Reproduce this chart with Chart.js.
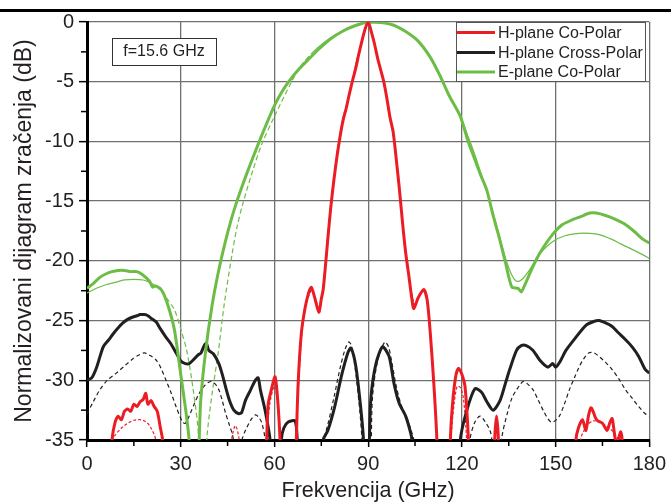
<!DOCTYPE html>
<html>
<head>
<meta charset="utf-8">
<script src="https://cdn.jsdelivr.net/npm/chart.js@4.4.1/dist/chart.umd.min.js"></script>
<style>
  html, body { margin: 0; padding: 0; background: #fff; }
  #wrap { width: 671px; height: 504px; }
</style>
</head>
<body>
<div id="wrap"><canvas id="patternChart" width="671" height="504"></canvas></div>
<script>
// Radiation pattern, f = 15.6 GHz
// thick = measured, thin = simulated; values under -35 dB fall off the axis

const xTicks = [0, 30, 60, 90, 120, 150, 180];
const legendLabels = ['H-plane Co-Polar', 'H-plane Cross-Polar', 'E-plane Co-Polar'];

// H-plane Co-Polar, measured
const hCoMeasAngle = [7, 8, 9, 10, 11, 12, 13, 14, 15, 16, 17, 18, 18.8, 19.5, 20.5, 21.5, 22.5, 23.5, 24.2, 25,
  56.5, 57.5, 58, 59, 60.2, 61, 61.8, 62.5,
  66.5, 67, 67.6, 68.6, 69.7, 70.8, 71.8, 72.8, 74.2, 75, 75.6, 76.3, 77, 78, 79, 80, 81, 82, 83, 84, 85, 86, 87, 88, 89, 90,
  91, 92, 93, 94, 95, 96, 97, 98, 99, 100, 101, 102, 103, 104, 104.6, 106, 107.8, 108.9, 109.9, 111, 112, 112.5,
  115.8, 116.3, 117, 118, 118.9, 120, 121, 122.1, 122.6,
  130, 130.5, 131.1, 131.7, 132.2,
  156, 156.5, 157.3, 158.6, 159.7, 160.5, 161.3, 162, 162.7, 163.5, 165, 166.5, 167.3, 168.1, 168.7, 169.2, 170, 170.8, 171.3, 171.8];
const hCoMeasDb = [-40, -35, -33.5, -33.0, -33.3, -32.6, -32.4, -32.6, -32.0, -32.2, -31.8, -31.6, -31.1, -32.0, -31.7, -32.2, -32.6, -34.0, -35, -40,
  -40, -35, -32, -30.8, -29.7, -31.5, -35, -40,
  -40, -35, -30.2, -26.1, -24.1, -22.8, -22.2, -23.0, -24.3, -23.2, -22.4, -20.5, -18.4, -15.6, -13.3, -11.3, -9.6, -8.2, -7.2, -6.0, -4.9, -3.9, -2.7, -1.6, -0.6, 0,
  -0.8, -1.8, -3.0, -4.0, -5.0, -6.4, -8.0, -9.2, -11.5, -14.0, -16.8, -19.3, -21.2, -23.2, -24.0, -23.1, -22.4, -23.3, -26.1, -30.2, -35, -40,
  -40, -35, -32, -29.7, -29.0, -29.5, -30.5, -35, -40,
  -40, -35, -33.0, -35, -40,
  -40, -35, -34.0, -33.3, -34.2, -33.0, -32.3, -32.6, -33.1, -33.4, -33.6, -34.2, -33.6, -33.2, -34.2, -35, -35, -34.3, -35, -40];

// H-plane Co-Polar, simulated
const hCoSimAngle = [6, 7, 9, 11, 13, 15, 17, 19, 20.5, 22, 23,
  45.5, 46.3, 47.5, 48.7, 49.3,
  57, 57.5, 58.5, 60, 61, 62, 62.5,
  66.3, 66.8, 67.8, 68.8, 70, 71.8, 73, 74.2, 75.5, 76.5, 78, 80, 82, 84, 86, 88, 90,
  92, 94, 96, 98, 100, 102, 103.5, 104.8, 106, 107.8, 109, 110, 111, 112, 112.5,
  116, 116.5, 117.5, 118.5, 119.5, 120.5, 121.5, 122,
  157.5, 158, 160, 162, 164, 166, 168, 170, 170.5];
const hCoSimDb = [-40, -35.5, -34.6, -34.0, -33.6, -33.35, -33.3, -33.5, -34.0, -35, -40,
  -40, -35, -33.8, -35, -40,
  -40, -35, -32, -30.5, -32, -35, -40,
  -40, -35, -30, -26, -23.8, -22.5, -23.0, -24.0, -22.3, -19.8, -15.3, -11.0, -8.0, -6.0, -3.6, -1.5, 0,
  -1.8, -4.0, -6.4, -9.4, -14.2, -19.3, -22.0, -23.6, -23.0, -22.5, -23.5, -26.2, -30.5, -35, -40,
  -40, -35, -32, -30.5, -30.6, -31.5, -35, -40,
  -40, -35, -33.8, -33.4, -33.5, -33.8, -34.2, -35, -40];

// H-plane Cross-Polar, measured
const hCrossMeasAngle = [0, 1.5, 3.1, 5.2, 7, 8.4, 10, 11.5, 13, 14.7, 16, 17, 18.4, 19.5, 20.5, 22.1, 23.5, 25.3, 27, 28.5,
  30.1, 31.5, 32.7, 34, 35.5, 36.5, 37.5, 38.2, 39, 40.5, 42.2, 43.3, 44.3, 45.5, 47, 48.6, 49.5, 50.7, 52, 53.9,
  54.8, 55.5, 57, 58.6, 59.5, 61.5, 62.2, 63, 64.4, 66.6, 67.3, 68,
  75, 75.6, 77.1, 79.3, 81.4, 83.5, 84.5, 86.1, 87.7, 88.5, 89,
  90, 90.4, 90.9, 92.5, 94.6, 96.7, 98.3, 99.9, 102, 103.6, 104, 104.5,
  119, 119.5, 121.6, 124.2, 126.3, 128, 130, 132.2, 134, 135.3, 137.5, 139, 140.6, 142.8, 144.9, 147.5, 149.1, 150,
  151.5, 153.3, 156.5, 159.7, 162, 163.9, 166, 168.1, 170, 172.4, 174.5, 176.6, 178.7, 180];
const hCrossMeasDb = [-30.0, -29.8, -28.9, -27.2, -26.6, -26.1, -25.6, -25.2, -24.9, -24.7, -24.6, -24.5, -24.5, -24.6, -24.8, -25.1, -25.7, -26.4, -27.0, -27.7,
  -28.4, -28.6, -28.6, -28.3, -27.9, -27.7, -27.1, -26.9, -27.5, -27.8, -28.6, -29.5, -30.5, -31.6, -32.5, -32.8, -32.7, -31.7, -31.0, -30.0,
  -29.8, -30.8, -32.5, -35, -40, -40, -35, -34.0, -33.5, -33.4, -35, -40,
  -40, -35, -34.2, -32.2, -29.7, -27.7, -27.3, -28.9, -32.5, -35, -40,
  -40, -35, -31.4, -28.6, -27.2, -28.0, -30.3, -31.9, -33.0, -34.4, -35, -40,
  -40, -35, -32.5, -30.7, -31.0, -31.8, -32.5, -31.7, -30.2, -29.1, -27.5, -27.1, -27.1, -27.5, -28.3, -28.9, -28.6, -28.9,
  -28.4, -27.5, -26.4, -25.4, -25.1, -25.0, -25.2, -25.5, -26.0, -26.6, -27.2, -28.0, -29.1, -29.4];

// H-plane Cross-Polar, simulated
const hCrossSimAngle = [0, 2, 4.1, 6.5, 9.4, 12, 14.7, 16.5, 18.4, 20, 22.1, 23.7, 25.3, 27, 28.5, 30.6, 31.5, 32.7, 34.3, 35.9,
  37.8, 39.6, 41, 42.2, 43.3, 44.3, 45.4, 46.4, 47.5, 48.5, 49.5, 50.7, 52.5, 53.9, 55, 56, 57, 57.5,
  75, 75.8, 77, 79, 81, 82.5, 83.7, 84.5, 85.7, 87.3, 88, 88.5,
  90.5, 91, 91.4, 93, 95.3, 96.5, 97.5, 99, 100.5, 102.5, 104, 104.6, 105,
  122, 122.6, 124, 125.8, 127.5, 129, 129.6, 130.2,
  132, 132.7, 134.8, 136, 137.5, 139.6, 141, 142.8, 144.5, 146, 147.5, 148.6, 149.8, 151.2, 152.8, 154.4, 156, 157.5, 159,
  160.7, 162.2, 163.9, 166, 168.1, 170.3, 172.4, 174.5, 176.6, 178.7, 180];
const hCrossSimDb = [-32.8, -31.8, -30.8, -30.0, -29.4, -28.8, -28.2, -27.9, -27.7, -27.9, -28.3, -29.0, -30.0, -31.1, -32.2, -33.5, -33.6, -33.0, -32.0, -31.1,
  -30.4, -30.1, -30.3, -30.8, -31.7, -32.7, -33.6, -34.4, -35.5, -35.5, -35, -34.2, -33.3, -32.9, -33.1, -33.6, -35, -40,
  -40, -35, -33.8, -31.5, -29.0, -27.5, -26.8, -27.0, -28.7, -32.5, -35, -40,
  -40, -35, -31.4, -28.4, -26.8, -27.2, -28.4, -30.5, -32.0, -33.2, -34.4, -35, -40,
  -40, -35, -33.6, -33.0, -33.5, -34.2, -35, -40,
  -40, -35, -32.5, -31.5, -30.8, -30.1, -30.3, -30.8, -31.7, -32.5, -33.2, -33.5, -33.4, -33.0, -32.0, -30.8, -29.8, -28.9, -28.2,
  -27.7, -27.7, -28.0, -28.5, -29.1, -29.9, -30.8, -31.5, -32.2, -32.8, -33.0];

// E-plane Co-Polar, measured
const eCoMeasAngle = [0, 2, 4, 6, 8, 10, 12, 14, 16, 18, 20, 21, 22, 24, 26, 28, 30, 31.6, 32.7, 34, 35,
  35.9, 36.4, 38, 40, 42, 44, 46, 48, 50, 52, 55, 57.5, 60, 62.5, 65, 68, 71, 74.5, 78, 82, 86, 90,
  94, 98, 102, 106, 110, 113, 116, 119.5, 122, 124, 126, 128, 130, 132, 134, 136, 138, 139, 140, 142, 144, 146,
  149, 152, 155, 158, 161, 163, 166, 169, 172, 175, 178, 180];
const eCoMeasDb = [-22.3, -21.9, -21.4, -21.1, -20.9, -20.8, -20.8, -20.9, -20.9, -21.2, -21.7, -22.2, -22.1, -22.5, -23.8, -25.8, -29.5, -32.5, -35, -40, -40,
  -35, -31.7, -27.5, -23.8, -21.0, -18.7, -16.7, -15.0, -13.5, -12.1, -10.1, -8.5, -7.0, -5.8, -4.85, -3.9, -3.1, -2.2, -1.4, -0.75, -0.3, 0,
  -0.05, -0.25, -0.8, -1.6, -3.0, -4.5, -6.2, -7.9, -10.0, -11.4, -12.8, -14.1, -16.2, -18.1, -20.2, -22.2, -22.3, -22.6, -22.1, -20.9, -19.8, -18.9,
  -17.8, -17.0, -16.6, -16.3, -16.0, -16.0, -16.2, -16.5, -16.9, -17.5, -18.2, -18.5];

// E-plane Co-Polar, simulated
const eCoSimAngle = [0, 3, 6, 9, 12, 15, 18, 20, 22, 24, 26, 28, 30, 32, 34, 35.5, 37,
  38.4, 40, 42, 44, 46.4, 48, 50, 53, 56, 60, 65.5, 68.7, 72, 76, 80, 85, 90,
  95, 100, 106, 110, 113, 116, 119.5, 122, 124, 126, 128, 130, 132, 134, 136, 137.5, 139, 141, 143, 145,
  149, 153, 157.5, 161, 164, 168, 171, 175, 178, 180];
const eCoSimDb = [-22.7, -22.3, -22.0, -21.8, -21.6, -21.55, -21.6, -21.8, -22.1, -22.6, -23.3, -24.1, -25.7, -27.6, -30.8, -34.0, -40,
  -34.7, -31.2, -27.7, -23.5, -19.5, -17.2, -15.1, -12.5, -10.2, -7.9, -5.0, -3.6, -2.6, -1.7, -1.0, -0.3, 0,
  -0.1, -0.5, -1.6, -3.0, -4.5, -6.2, -7.9, -9.6, -11.0, -12.6, -14.2, -16.0, -17.9, -19.8, -21.2, -21.7, -21.6, -21.0, -20.2, -19.4,
  -18.4, -17.9, -17.7, -17.7, -17.8, -18.2, -18.6, -19.1, -19.5, -19.8];

const RED = '#ec1c24';
const BLACK = '#231f20';
const GREEN = '#6cbd45';
const FONT = "'Liberation Sans', Arial, sans-serif";

function toPoints(xs, ys) {
  return xs.map((x, i) => ({ x: x, y: ys[i] }));
}

function measured(label, xs, ys, color, order) {
  return {
    label: label,
    data: toPoints(xs, ys),
    borderColor: color,
    borderWidth: 3,
    pointRadius: 0,
    tension: 0.25,
    clip: 0,
    order: order
  };
}

function simulated(label, xs, ys, color, dash, order) {
  return {
    label: label,
    data: toPoints(xs, ys),
    borderColor: color,
    borderWidth: 1.2,
    borderDash: dash,
    pointRadius: 0,
    tension: 0.3,
    clip: 0,
    order: order
  };
}

const eSim = simulated('E-plane Co-Polar sim', eCoSimAngle, eCoSimDb, GREEN, [], 6);
// simulated E-plane is dashed only on the rising flank
eSim.segment = {
  borderDash: ctx => (ctx.p0.parsed.x >= 21 && ctx.p1.parsed.x <= 72) ? [5, 3] : []
};

// minor ticks, top rule, annotation and legend box
const decorations = {
  id: 'decorations',
  beforeDraw(chart) {
    const c = chart.ctx;
    c.save();
    c.fillStyle = '#000';
    c.fillRect(0, 9, chart.width, 3);
    c.restore();
  },
  afterDraw(chart) {
    const c = chart.ctx;
    const xs = chart.scales.x, ys = chart.scales.y;
    const area = chart.chartArea;
    c.save();
    c.strokeStyle = '#000';
    c.lineWidth = 1.5;
    for (let v = 15; v < 180; v += 30) {
      const px = xs.getPixelForValue(v);
      c.beginPath(); c.moveTo(px, area.bottom); c.lineTo(px, area.bottom + 6); c.stroke();
    }
    for (let v = -2.5; v > -35; v -= 5) {
      const py = ys.getPixelForValue(v);
      c.beginPath(); c.moveTo(area.left, py); c.lineTo(area.left - 6, py); c.stroke();
    }

    // frequency note
    c.fillStyle = '#fff';
    c.fillRect(112, 38, 104, 27);
    c.strokeStyle = '#333';
    c.lineWidth = 1;
    c.strokeRect(112.5, 38.5, 104, 27);
    c.fillStyle = '#231f20';
    c.font = '16px ' + FONT;
    c.textAlign = 'center';
    c.textBaseline = 'middle';
    c.fillText('f=15.6 GHz', 164, 52);

    // legend
    c.fillStyle = '#fff';
    c.fillRect(456, 22, 189, 59);
    c.strokeStyle = '#555';
    c.strokeRect(456.5, 22.5, 189, 59);
    const colors = [RED, BLACK, GREEN];
    const rows = [32.5, 52.5, 72];
    c.font = '16px ' + FONT;
    c.textAlign = 'left';
    for (let i = 0; i < legendLabels.length; i++) {
      c.strokeStyle = colors[i];
      c.lineWidth = 3;
      c.beginPath(); c.moveTo(457, rows[i]); c.lineTo(495, rows[i]); c.stroke();
      c.fillStyle = '#231f20';
      c.fillText(legendLabels[i], 498, rows[i] + 1);
    }
    c.restore();
  }
};

new Chart(document.getElementById('patternChart'), {
  type: 'line',
  data: {
    datasets: [
      measured('H-plane Co-Polar', hCoMeasAngle, hCoMeasDb, RED, 1),
      simulated('H-plane Co-Polar sim', hCoSimAngle, hCoSimDb, RED, [3, 2], 4),
      measured('H-plane Cross-Polar', hCrossMeasAngle, hCrossMeasDb, BLACK, 3),
      simulated('H-plane Cross-Polar sim', hCrossSimAngle, hCrossSimDb, BLACK, [4, 3], 5),
      measured('E-plane Co-Polar', eCoMeasAngle, eCoMeasDb, GREEN, 2),
      eSim
    ]
  },
  options: {
    responsive: false,
    animation: false,
    devicePixelRatio: 1,
    layout: { padding: { top: 22, right: 17, bottom: 0, left: 0 } },
    plugins: {
      legend: { display: false },
      tooltip: { enabled: false }
    },
    scales: {
      x: {
        type: 'linear',
        min: 0,
        max: 180,
        afterBuildTicks: scale => { scale.ticks = xTicks.map(v => ({ value: v })); },
        afterFit: scale => { scale.height = 64; },
        grid: { color: '#707070', lineWidth: 1.3, tickLength: 7, tickColor: '#000', tickWidth: 1.5 },
        border: { color: '#000', width: 3 },
        ticks: { color: '#231f20', font: { family: FONT, size: 20 }, padding: 5, maxRotation: 0 },
        title: {
          display: true,
          text: 'Frekvencija (GHz)',
          color: '#231f20',
          font: { family: FONT, size: 21.5 },
          padding: { top: 0, bottom: 0 }
        }
      },
      y: {
        type: 'linear',
        min: -35,
        max: 0,
        ticks: { stepSize: 5, color: '#231f20', font: { family: FONT, size: 20 }, padding: 5 },
        afterFit: scale => { scale.width = 87; },
        grid: { color: '#707070', lineWidth: 1.3, tickLength: 8, tickColor: '#000', tickWidth: 1.5 },
        border: { color: '#000', width: 3 },
        title: {
          display: true,
          text: 'Normalizovani dijagram zračenja (dB)',
          color: '#231f20',
          font: { family: FONT, size: 23 },
          padding: { top: 11, bottom: 0 }
        }
      }
    }
  },
  plugins: [decorations]
});
</script>
</body>
</html>
